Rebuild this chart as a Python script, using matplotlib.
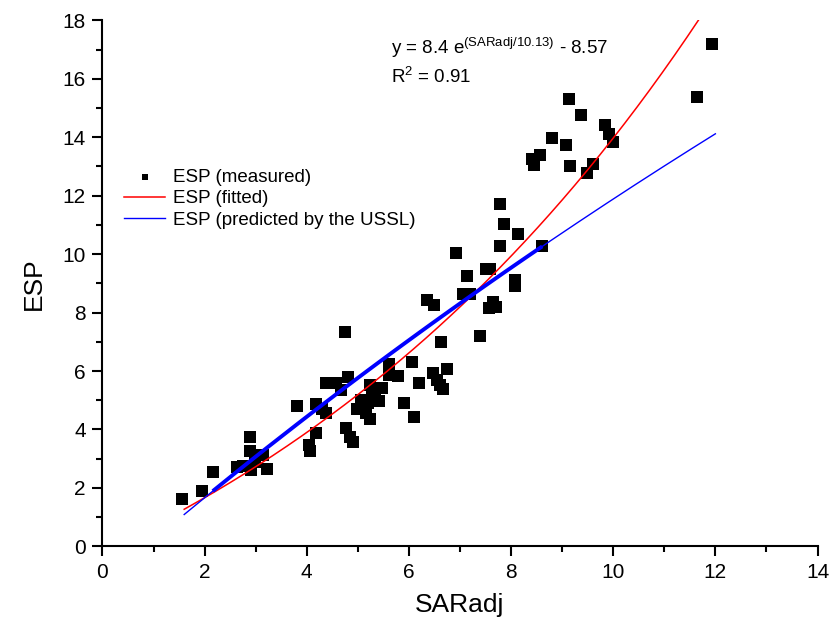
import numpy as np
import matplotlib
matplotlib.use("Agg")
import matplotlib.pyplot as plt
from matplotlib.ticker import MultipleLocator

plt.rcParams['font.family'] = ['Liberation Sans', 'DejaVu Sans']
plt.rcParams['mathtext.fontset'] = 'custom'
plt.rcParams['mathtext.rm'] = 'Liberation Sans'
plt.rcParams['mathtext.default'] = 'regular'

# Measured data (SARadj, ESP)
sar_measured = [1.56, 1.95, 2.16, 2.63, 2.75, 2.89, 2.89, 2.91, 2.99, 3.06, 3.14, 3.23,
                3.80, 4.04, 4.06, 4.18, 4.18, 4.30, 4.38, 4.38, 4.58, 4.67, 4.75, 4.77,
                4.81, 4.85, 4.91, 4.98, 5.06, 5.16, 5.20, 5.24, 5.24, 5.28, 5.34, 5.41,
                5.47, 5.61, 5.61, 5.79, 5.91, 6.06, 6.10, 6.20, 6.35, 6.49, 6.47, 6.55,
                6.61, 6.63, 6.67, 6.75, 6.92, 7.06, 7.14, 7.20, 7.39, 7.51, 7.59, 7.57,
                7.65, 7.70, 7.79, 7.79, 7.86, 8.08, 8.08, 8.14, 8.61, 8.40, 8.45, 8.57,
                8.81, 9.08, 9.14, 9.16, 9.37, 9.49, 9.61, 9.84, 9.92, 10.00, 11.64, 11.93]
esp_measured = [1.62, 1.88, 2.53, 2.72, 2.76, 3.75, 3.26, 2.60, 2.88, 3.12, 3.12, 2.63,
                4.80, 3.47, 3.26, 3.87, 4.86, 4.69, 4.55, 5.59, 5.59, 5.35, 7.33, 4.04,
                5.80, 3.74, 3.56, 4.69, 5.00, 4.55, 4.89, 5.52, 4.35, 5.10, 5.30, 4.99,
                5.42, 6.24, 5.86, 5.83, 4.91, 6.30, 4.42, 5.60, 8.43, 8.26, 5.93, 5.70,
                5.52, 7.00, 5.38, 6.06, 10.04, 8.63, 9.25, 8.63, 7.20, 9.48, 9.48, 8.14,
                8.35, 8.19, 11.70, 10.27, 11.02, 8.90, 9.13, 10.68, 10.27, 13.25, 13.05, 13.40,
                13.97, 13.75, 15.30, 13.00, 14.76, 12.78, 13.10, 14.41, 14.10, 13.85, 15.38, 17.20]

# Fitted model parameters: ESP = a*exp(SAR/b) - c
fit_a, fit_b, fit_c = 8.4, 10.13, 8.57
# USSL model parameters: ESR = k0 + k1*SAR ; ESP = 100*ESR/(1+ESR)
ussl_k0, ussl_k1 = -0.0126, 0.01475
x_range = [1.6, 12.0]

fig = plt.figure(figsize=(8.31, 6.28), dpi=100)
ax = fig.add_axes([0.1233, 0.1301, 0.8605, 0.8374])

ax.scatter(sar_measured, esp_measured, marker='s', s=75, color='black',
           linewidths=0, zorder=2, label='ESP (measured)')

xs = np.linspace(x_range[0], x_range[1], 300)
ax.plot(xs, fit_a * np.exp(xs / fit_b) - fit_c, color='red', lw=1.1, zorder=3,
        label='ESP (fitted)')
esr = ussl_k0 + ussl_k1 * xs
ax.plot(xs, 100 * esr / (1 + esr), color='blue', lw=1.0, zorder=3,
        label='ESP (predicted by the USSL)')
xs2 = np.sort(np.array(sar_measured))
xs2 = xs2[(xs2 > 2.0) & (xs2 < 8.8)]
esr2 = ussl_k0 + ussl_k1 * xs2
ax.plot(xs2, 100 * esr2 / (1 + esr2), color='blue', lw=2.8, zorder=3,
        solid_capstyle='butt')

ax.set_xlim(0, 14)
ax.set_ylim(0, 18)
ax.xaxis.set_major_locator(MultipleLocator(2))
ax.xaxis.set_minor_locator(MultipleLocator(1))
ax.yaxis.set_major_locator(MultipleLocator(2))
ax.yaxis.set_minor_locator(MultipleLocator(1))
for s in ['top', 'right']:
    ax.spines[s].set_visible(False)
for s in ['left', 'bottom']:
    ax.spines[s].set_linewidth(1.5)
ax.tick_params(which='major', direction='out', length=7, width=1.5, labelsize=15, pad=5)
ax.tick_params(which='minor', direction='out', length=4, width=1.5)

ax.set_xlabel('SARadj', fontsize=19, labelpad=8)
ax.set_ylabel('ESP', fontsize=19, labelpad=12)

ax.text(0.4035, 0.947, 'y = 8.4 e$^{(SARadj/10.13)}$ - 8.57', transform=ax.transAxes,
        fontsize=13.5, va='center', ha='left')
ax.text(0.4035, 0.893, 'R$^{2}$ = 0.91', transform=ax.transAxes,
        fontsize=13.5, va='center', ha='left')

leg = ax.legend(loc='upper left', bbox_to_anchor=(0.0197, 0.7315), frameon=False,
                fontsize=13.5, handlelength=2.2, handletextpad=0.4,
                labelspacing=0.22, markerscale=0.55, borderaxespad=0)

fig.savefig('out.png', dpi=100)
